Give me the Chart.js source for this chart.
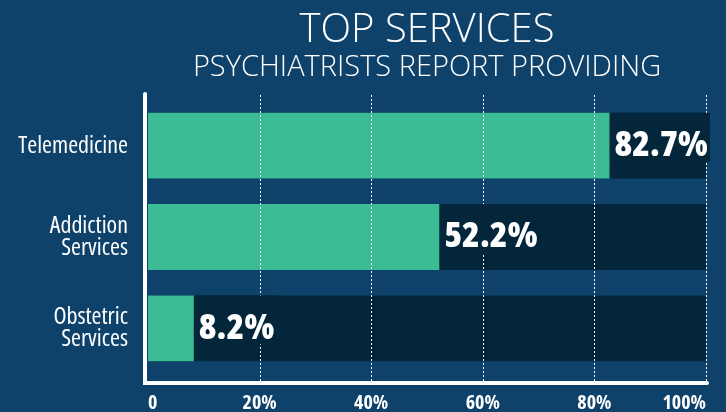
<!DOCTYPE html>
<html>
<head>
<meta charset="utf-8">
<script src="https://cdn.jsdelivr.net/npm/chart.js@4"></script>
<style>
html,body{margin:0;padding:0;background:#0e426b;}
</style>
</head>
<body>
<canvas id="c" width="726" height="412"></canvas>
<script>
const categories = [["Telemedicine"], ["Addiction", "Services"], ["Obstetric", "Services"]];
const values = [82.7, 52.2, 8.2];
const fullValues = [100, 100, 100];
const tickValues = [0, 20, 40, 60, 80, 100];
const titleText = "TOP SERVICES";
const subtitleText = "PSYCHIATRISTS REPORT PROVIDING";

const BG = "#0e426b";
const GREEN = "#3bbc95";
const DARK = "#03263b";
const FAM = "OpenSansCond";      // condensed Open Sans
const FAM_TITLE = "'Open Sans', sans-serif";

// map the placeholder family to the condensed width of Open Sans
(function () {
  const d = Object.getOwnPropertyDescriptor(CanvasRenderingContext2D.prototype, "font");
  Object.defineProperty(CanvasRenderingContext2D.prototype, "font", {
    configurable: true,
    get() { return d.get.call(this); },
    set(v) {
      if (typeof v === "string" && v.indexOf(FAM) >= 0) {
        v = "condensed " + v.replace(FAM, "'Open Sans'");
      }
      d.set.call(this, v);
    }
  });
})();

const overlay = {
  id: "overlay",
  beforeDraw(chart) {
    const ctx = chart.ctx;
    ctx.save();
    ctx.fillStyle = BG;
    ctx.fillRect(0, 0, chart.width, chart.height);
    ctx.restore();
  },
  afterDatasetsDraw(chart) {
    const ctx = chart.ctx, a = chart.chartArea, xs = chart.scales.x;
    ctx.save();
    // dotted grid lines, drawn over the bars
    ctx.strokeStyle = "#ffffff";
    ctx.lineWidth = 1;
    ctx.setLineDash([2, 2]);
    tickValues.forEach(v => {
      if (v === 0) return;
      const x = Math.round(xs.getPixelForValue(v)) + 0.5;
      ctx.beginPath();
      ctx.moveTo(x, a.top - 5);
      ctx.lineTo(x, a.bottom + 8);
      ctx.stroke();
    });
    ctx.setLineDash([]);
    // value labels with a dark backing
    const meta = chart.getDatasetMeta(1);
    ctx.font = "800 36px " + FAM;
    ctx.textBaseline = "middle";
    ctx.textAlign = "left";
    meta.data.forEach((bar, i) => {
      const txt = values[i].toFixed(1) + "%";
      const w = ctx.measureText(txt).width;
      const x = bar.x + 5;
      ctx.fillStyle = DARK;
      ctx.fillRect(x - 2, bar.y - bar.height / 2, w + 4, bar.height / 2 + 16);
      ctx.fillStyle = "#ffffff";
      ctx.fillText(txt, x, bar.y);
    });
    // axis lines
    ctx.strokeStyle = "#ffffff";
    ctx.lineWidth = 4;
    ctx.lineCap = "round";
    ctx.beginPath();
    ctx.moveTo(a.left - 3, a.top - 6);
    ctx.lineTo(a.left - 3, a.bottom + 9);
    ctx.lineTo(a.right + 1, a.bottom + 9);
    ctx.stroke();
    ctx.restore();
  }
};

new Chart(document.getElementById("c"), {
  type: "bar",
  data: {
    labels: categories,
    datasets: [
      { data: fullValues, backgroundColor: DARK, grouped: false, order: 2,
        barPercentage: 1, categoryPercentage: 0.72 },
      { data: values, backgroundColor: GREEN, grouped: false, order: 1,
        barPercentage: 1, categoryPercentage: 0.72 }
    ]
  },
  options: {
    indexAxis: "y",
    responsive: false,
    animation: false,
    layout: { padding: { left: 0, right: 20, top: 0, bottom: 0 } },
    plugins: {
      legend: { display: false },
      tooltip: { enabled: false },
      title: {
        display: true, text: titleText, color: "#ffffff", fullSize: false,
        font: { family: FAM_TITLE, size: 40, weight: "300", lineHeight: 1.0 },
        padding: { top: 11, bottom: 2 }
      },
      subtitle: {
        display: true, text: subtitleText, color: "#ffffff", fullSize: false,
        font: { family: FAM_TITLE, size: 29, weight: "300", lineHeight: 1.0 },
        padding: { top: 0, bottom: 18 }
      }
    },
    scales: {
      x: {
        min: 0, max: 100,
        afterBuildTicks(scale) { scale.ticks = tickValues.map(v => ({ value: v })); },
        afterFit(scale) { scale.height = 38; },
        border: { display: false },
        grid: { display: false, tickLength: 0 },
        ticks: {
          color: "#ffffff", align: "inner", padding: 17,
          font: { family: FAM, size: 20, weight: "bold" },
          callback: (v) => v === 0 ? "0" : v + "%"
        }
      },
      y: {
        offset: true,
        afterFit(scale) { scale.width = 148; },
        border: { display: false },
        grid: { display: false, tickLength: 0 },
        ticks: {
          color: "#ffffff", padding: 20,
          font: { family: FAM, size: 24, lineHeight: 0.92 }
        }
      }
    }
  },
  plugins: [overlay]
});
</script>
</body>
</html>
